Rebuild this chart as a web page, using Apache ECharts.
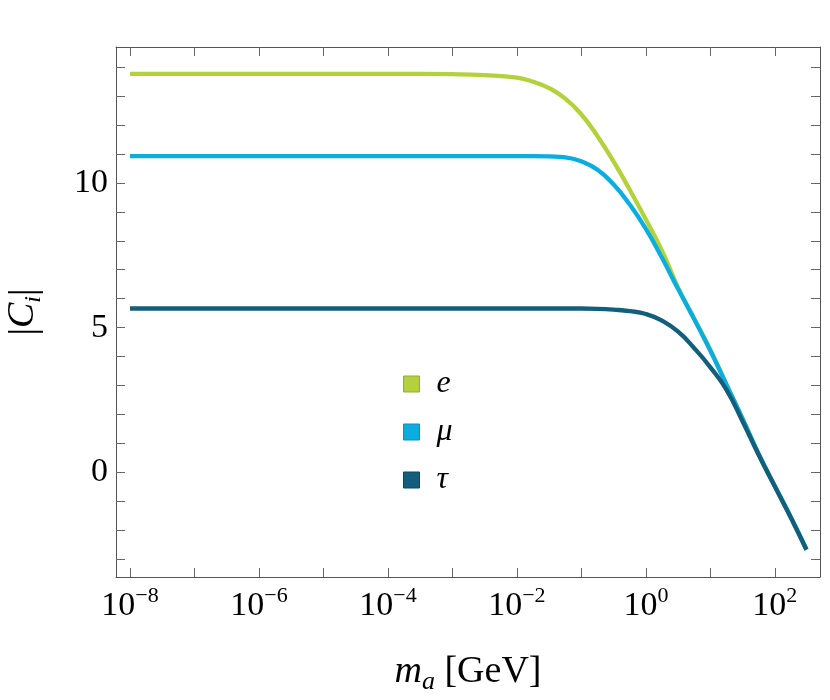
<!DOCTYPE html>
<html>
<head>
<meta charset="utf-8">
<script src="https://cdn.jsdelivr.net/npm/echarts@6/dist/echarts.min.js"></script>
<style>
  html, body { margin: 0; padding: 0; background: #fff; }
</style>
</head>
<body>
<div id="chart" style="width: 830px; height: 700px"></div>
<script>
// x is log10(m_a / GeV)
const massExp = [-8, -7, -6, -5, -4, -3, -2.5, -2, -1.75, -1.5, -1.25, -1, -0.75, -0.5, -0.25, 0, 0.25, 0.5, 0.75, 1, 1.25, 1.5, 1.75, 2, 2.25, 2.49];
const coefE = [13.76, 13.76, 13.76, 13.76, 13.76, 13.75, 13.72, 13.63, 13.49, 13.27, 12.91, 12.36, 11.61, 10.73, 9.76, 8.73, 7.66, 6.38, 5.31, 4.24, 3.03, 1.86, 0.64, -0.47, -1.55, -2.66];
const coefMu = [10.92, 10.92, 10.92, 10.92, 10.92, 10.92, 10.92, 10.92, 10.92, 10.91, 10.88, 10.74, 10.45, 9.94, 9.25, 8.41, 7.41, 6.33, 5.29, 4.2, 3.03, 1.85, 0.63, -0.47, -1.55, -2.66];
const coefTau = [5.66, 5.66, 5.66, 5.66, 5.66, 5.66, 5.66, 5.66, 5.66, 5.66, 5.66, 5.66, 5.65, 5.62, 5.57, 5.47, 5.24, 4.86, 4.29, 3.63, 2.85, 1.76, 0.6, -0.49, -1.57, -2.67];

const seriesNames = ["e", "μ", "τ"];
const xTickExps = [-8, -7, -6, -5, -4, -3, -2, -1, 0, 1, 2];
const xLabelExps = [-8, -6, -4, -2, 0, 2];
const yTicks = [-3, -2, -1, 0, 1, 2, 3, 4, 5, 6, 7, 8, 9, 10, 11, 12, 13, 14];
const yLabels = [0, 5, 10];

const serif = "Liberation Serif";
const frameColor = "#555";
const tickColor = "#666";

let myChart = echarts.init(document.getElementById("chart"));

function toPairs(ys) {
  return massExp.map((x, i) => [x, ys[i]]);
}

const frameAxis = {
  axisLine: { show: true, onZero: false, lineStyle: { color: frameColor, width: 1 } },
  axisTick: { show: true, inside: true, length: 9, lineStyle: { color: tickColor, width: 1 } },
  splitLine: { show: false },
};

myChart.setOption({
  animation: false,
  backgroundColor: "#fff",
  grid: { left: 116, right: 10, top: 47, bottom: 123, outerBoundsMode: "none", containLabel: false },
  legend: {
    orient: "vertical",
    left: 403,
    top: 368,
    padding: 0,
    icon: "rect",
    itemWidth: 16,
    itemHeight: 16,
    itemGap: 16,
    textStyle: { fontFamily: serif, fontStyle: "italic", fontSize: 32, color: "#000", padding: [0, 0, 0, 12] },
    data: [
      { name: "e", itemStyle: { color: "#b3d13c", borderColor: "#93ad2e", borderWidth: 1 } },
      { name: "μ", itemStyle: { color: "#0badde", borderColor: "#0990b8", borderWidth: 1 } },
      { name: "τ", itemStyle: { color: "#125e7c", borderColor: "#0c4860", borderWidth: 1 } },
    ],
  },
  xAxis: [
    {
      ...frameAxis,
      type: "value",
      min: -8.217,
      max: 2.7,
      axisTick: { ...frameAxis.axisTick, customValues: xTickExps },
      axisLabel: {
        customValues: xLabelExps,
        margin: 8,
        formatter: (v) => "{b|10}{s|" + (v < 0 ? "−" : "") + Math.abs(v) + "}",
        rich: {
          b: { fontFamily: serif, fontSize: 34, color: "#000", lineHeight: 38, verticalAlign: "bottom" },
          s: { fontFamily: serif, fontSize: 22, color: "#000", lineHeight: 22, verticalAlign: "top" },
        },
      },
      name: "{m|m}{a|a}{t| [GeV]}",
      nameLocation: "middle",
      nameGap: 76,
      nameTextStyle: {
        rich: {
          m: { fontFamily: serif, fontStyle: "italic", fontSize: 38, color: "#000", lineHeight: 42, verticalAlign: "top" },
          a: { fontFamily: serif, fontStyle: "italic", fontSize: 26, color: "#000", lineHeight: 22, verticalAlign: "bottom" },
          t: { fontFamily: serif, fontSize: 38, color: "#000", lineHeight: 42, verticalAlign: "top" },
        },
      },
    },
    {
      ...frameAxis,
      type: "value",
      position: "top",
      min: -8.217,
      max: 2.7,
      axisTick: { ...frameAxis.axisTick, customValues: xTickExps },
      axisLabel: { show: false },
    },
  ],
  yAxis: [
    {
      ...frameAxis,
      type: "value",
      min: -3.61,
      max: 14.69,
      axisTick: { ...frameAxis.axisTick, customValues: yTicks },
      axisLabel: { customValues: yLabels, margin: 8, fontFamily: serif, fontSize: 34, color: "#000" },
      name: "|{c|C}{i|i}|",
      nameLocation: "middle",
      nameRotate: 90,
      nameGap: 70,
      nameTextStyle: {
        fontFamily: serif,
        fontSize: 38,
        color: "#000",
        rich: {
          c: { fontFamily: serif, fontStyle: "italic", fontSize: 38, color: "#000", lineHeight: 42, verticalAlign: "top" },
          i: { fontFamily: serif, fontStyle: "italic", fontSize: 24, color: "#000", lineHeight: 22, verticalAlign: "bottom" },
        },
      },
    },
    {
      ...frameAxis,
      type: "value",
      position: "right",
      min: -3.61,
      max: 14.69,
      axisTick: { ...frameAxis.axisTick, customValues: yTicks },
      axisLabel: { show: false },
    },
  ],
  series: [
    {
      name: "e",
      type: "line",
      data: toPairs(coefE),
      smooth: true,
      showSymbol: false,
      lineStyle: { color: "#b3d13c", width: 4.3 },
      itemStyle: { color: "#b3d13c" },
    },
    {
      name: "μ",
      type: "line",
      data: toPairs(coefMu),
      smooth: true,
      showSymbol: false,
      lineStyle: { color: "#0badde", width: 4.3 },
      itemStyle: { color: "#0badde" },
    },
    {
      name: "τ",
      type: "line",
      data: toPairs(coefTau),
      smooth: true,
      showSymbol: false,
      lineStyle: { color: "#125e7c", width: 4.3 },
      itemStyle: { color: "#125e7c" },
    },
  ],
});

window.addEventListener("resize", () => {
  myChart.resize();
});
</script>
</body>
</html>
